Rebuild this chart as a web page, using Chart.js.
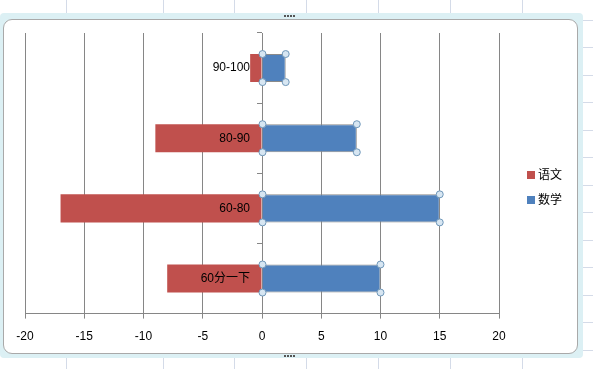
<!DOCTYPE html>
<html>
<head>
<meta charset="utf-8">
<script src="https://cdn.jsdelivr.net/npm/chart.js@4.4.1/dist/chart.umd.min.js"></script>
<style>
    html, body { margin: 0; padding: 0; }
    body { width: 593px; height: 369px; overflow: hidden; position: relative; background: #fff; }
    .vline { position: absolute; top: 0; width: 1px; height: 369px; background: #d4dbe8; }
    .hline { position: absolute; left: 0; width: 593px; height: 1px; background: #d4dbe8; }
    #frame {
        position: absolute; left: 0; top: 13px; width: 583px; height: 345px;
        background: #dcf0f4; border-radius: 4px;
    }
    #inner {
        position: absolute; left: 3px; top: 19px; width: 573px; height: 333px;
        background: #fff; border: 1px solid #a9a9a9; border-radius: 9px;
    }
    .dots { position: absolute; height: 2px; width: 12px;
        background-image: linear-gradient(to right, #555 2px, transparent 2px);
        background-size: 3px 2px; }
    canvas { position: absolute; left: 0; top: 0; }
    #legend { position: absolute; left: 527px; top: 166px;
        font: 12px 'Noto Sans CJK SC', sans-serif; color: #000; }
    #legend div { height: 25px; line-height: 16px; }
    #legend span.box { display: inline-block; width: 8px; height: 8px; margin-right: 3px; vertical-align: 0px; }
</style>
</head>
<body>
<div id="sheet"></div>
<div id="frame"></div>
<div id="inner"></div>
<div class="dots" style="left:284px;top:15px"></div>
<div class="dots" style="left:284px;top:355px"></div>
<canvas id="scoreChart" width="593" height="369"></canvas>
<div id="legend"></div>
<script>
// 分数段
const categories = ['90-100', '80-90', '60-80', '60分一下'];
// 语文画在左边（负数）
const chineseValues = [-1, -9, -17, -8];
const mathValues = [2, 8, 15, 10];
const seriesNames = ['语文', '数学'];
const seriesColors = ['#c0504d', '#4f81bd'];
const xTicks = { min: -20, max: 20, step: 5 };

const axisGray = '#868686';
const labelFont = { family: "'Liberation Sans', 'Noto Sans CJK SC', sans-serif", size: 12 };

// 背景的表格线
function drawSheetLines() {
    const sheet = document.getElementById('sheet');
    [66, 163, 234, 306, 378, 450, 522].forEach(x => {
        const d = document.createElement('div');
        d.className = 'vline';
        d.style.left = x + 'px';
        sheet.appendChild(d);
    });
    for (let y = 19.5; y < 369; y += 27.5) {
        const d = document.createElement('div');
        d.className = 'hline';
        d.style.top = Math.round(y) + 'px';
        sheet.appendChild(d);
    }
}

// 图例
function buildLegend() {
    const legend = document.getElementById('legend');
    seriesNames.forEach((name, i) => {
        const row = document.createElement('div');
        row.innerHTML = '<span class="box" style="background:' + seriesColors[i] + '"></span>' + name;
        legend.appendChild(row);
    });
}

// 选中系列的小圆点
const handlePlugin = {
    id: 'selectionHandles',
    afterDatasetsDraw(chart) {
        const meta = chart.getDatasetMeta(1);
        const ctx = chart.ctx;
        ctx.save();
        meta.data.forEach(bar => {
            const half = bar.height / 2;
            const corners = [
                [bar.base, bar.y - half], [bar.x, bar.y - half],
                [bar.base, bar.y + half], [bar.x, bar.y + half]
            ];
            corners.forEach(([cx, cy]) => {
                ctx.beginPath();
                ctx.arc(cx, cy, 3.5, 0, Math.PI * 2);
                ctx.fillStyle = '#d7e6f2';
                ctx.fill();
                ctx.lineWidth = 1;
                ctx.strokeStyle = '#6f97b9';
                ctx.stroke();
            });
        });
        ctx.restore();
    }
};

function initializeScoreChart() {
    const ctx = document.getElementById('scoreChart');
    if (!ctx) {
        console.error('canvas not found');
        return;
    }
    Chart.defaults.font = labelFont;
    Chart.defaults.color = '#000';

    new Chart(ctx.getContext('2d'), {
        type: 'bar',
        data: {
            labels: categories,
            datasets: [{
                label: seriesNames[0],
                data: chineseValues,
                backgroundColor: seriesColors[0],
                borderWidth: 0
            }, {
                label: seriesNames[1],
                data: mathValues,
                backgroundColor: seriesColors[1],
                borderColor: '#8a8a8a',
                borderWidth: 1
            }]
        },
        options: {
            indexAxis: 'y',
            responsive: false,
            animation: false,
            devicePixelRatio: 1,
            categoryPercentage: 0.8,
            barPercentage: 0.5,
            layout: { padding: { left: 25, top: 33, right: 94, bottom: 14 } },
            plugins: {
                tooltip: { enabled: false },
                legend: { display: false }
            },
            scales: {
                x: {
                    stacked: true,
                    min: xTicks.min,
                    max: xTicks.max,
                    ticks: { stepSize: xTicks.step, padding: 11, font: labelFont },
                    grid: { color: axisGray, tickLength: 5 },
                    border: { color: axisGray }
                },
                y: {
                    stacked: true,
                    // x 轴对称，中心就是 0
                    position: 'center',
                    offset: true,
                    ticks: { padding: 7, font: labelFont, z: 1 },
                    grid: { drawOnChartArea: false, offset: true, tickLength: 5, color: axisGray },
                    border: { color: axisGray }
                }
            }
        },
        plugins: [handlePlugin]
    });
}

drawSheetLines();
buildLegend();
initializeScoreChart();
</script>
</body>
</html>
